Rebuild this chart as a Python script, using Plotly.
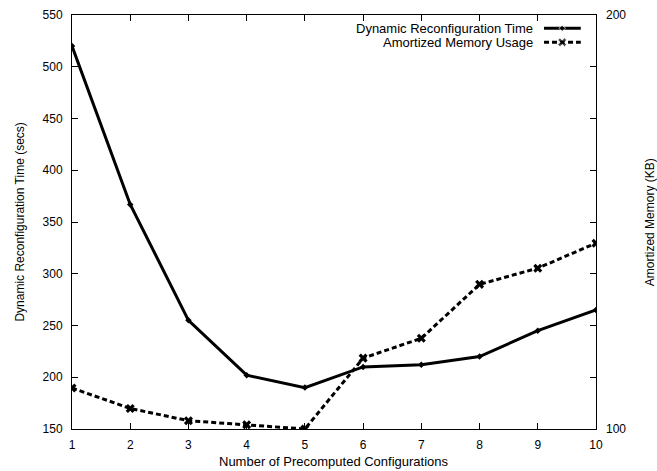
import plotly.graph_objects as go

configs = [1, 2, 3, 4, 5, 6, 7, 8, 9, 10]
reconfig_time = [520, 367, 255, 202, 190, 210, 212, 220, 245, 265]
memory_usage = [107.1, 103.5, 101.4, 100.7, 100.0, 112.6, 116.4, 127.4, 130.9, 136.5]

x_title = "Number of Precomputed Configurations"
y_title = "Dynamic Reconfiguration Time (secs)"
y2_title = "Amortized Memory (KB)"

FONT = dict(family="Liberation Sans, Arial, sans-serif", size=12, color="black")
FONT13 = dict(family="Liberation Sans, Arial, sans-serif", size=13, color="black")
DASH = "5px,3px"

fig = go.Figure()
fig.add_trace(go.Scatter(x=configs, y=reconfig_time, mode="lines+markers",
                         line=dict(color="black", width=3),
                         marker=dict(symbol="diamond", size=5, color="black"),
                         name="Dynamic Reconfiguration Time", showlegend=False))
fig.add_trace(go.Scatter(x=configs, y=memory_usage, mode="lines+markers", yaxis="y2",
                         line=dict(color="black", width=3, dash=DASH),
                         marker=dict(symbol="x", size=8, color="black"),
                         name="Amortized Memory Usage", showlegend=False))

# custom legend (text right-aligned, sample on the right like gnuplot)
legend_names = ["Dynamic Reconfiguration Time", "Amortized Memory Usage"]
legend_y = [0.968, 0.934]
legend_styles = [dict(dash="solid", sym="diamond", size=5), dict(dash=DASH, sym="x", size=8)]
for name, yy, st in zip(legend_names, legend_y, legend_styles):
    fig.add_trace(go.Scatter(x=[0.9008, 0.9355, 0.971], y=[yy, yy, yy], xaxis="x2", yaxis="y3",
                             mode="lines+markers",
                             line=dict(color="black", width=3, dash=st["dash"]),
                             marker=dict(symbol=st["sym"], size=[0, st["size"], 0], color="black"),
                             showlegend=False, hoverinfo="skip", cliponaxis=False))
    fig.add_annotation(x=0.8836, y=yy, xref="x2", yref="y3", text=name, showarrow=False,
                       xanchor="right", yanchor="middle", font=FONT13)

# axis titles as annotations for exact placement
fig.add_annotation(x=0.5, y=-0.0789, xref="paper", yref="paper", text=x_title, showarrow=False,
                   xanchor="center", yanchor="middle", font=FONT13)
fig.add_annotation(x=-0.1, y=0.5, xref="paper", yref="paper", text=y_title, showarrow=False,
                   textangle=-90, xanchor="center", yanchor="middle", font=FONT)
fig.add_annotation(x=1.1035, y=0.5, xref="paper", yref="paper", text=y2_title, showarrow=False,
                   textangle=-90, xanchor="center", yanchor="middle", font=FONT)

fig.update_layout(
    width=657, height=471,
    margin=dict(l=72, r=61, t=15, b=42),
    paper_bgcolor="white", plot_bgcolor="white",
    font=FONT,
    xaxis=dict(range=[1, 10], dtick=1, ticks="inside", ticklen=6, tickcolor="black",
               showline=True, linecolor="black", linewidth=1, mirror="ticks",
               showgrid=False, zeroline=False, automargin=False, ticklabelstandoff=5),
    yaxis=dict(range=[150, 550], dtick=50, ticks="inside", ticklen=6, tickcolor="black",
               showline=True, linecolor="black", linewidth=1, mirror="ticks",
               showgrid=False, zeroline=False, automargin=False, ticklabelstandoff=6),
    yaxis2=dict(type="log", range=[2, 2.30103], tickvals=[100, 200], ticktext=["100", "200"],
                overlaying="y", side="right", ticks="inside", ticklen=6, tickcolor="black",
                showgrid=False, zeroline=False, showline=False, automargin=False,
                ticklabelstandoff=9),
    xaxis2=dict(range=[0, 1], visible=False, overlaying="x"),
    yaxis3=dict(range=[0, 1], visible=False, overlaying="y", anchor="x2"),
)

fig.write_html("out.html")
